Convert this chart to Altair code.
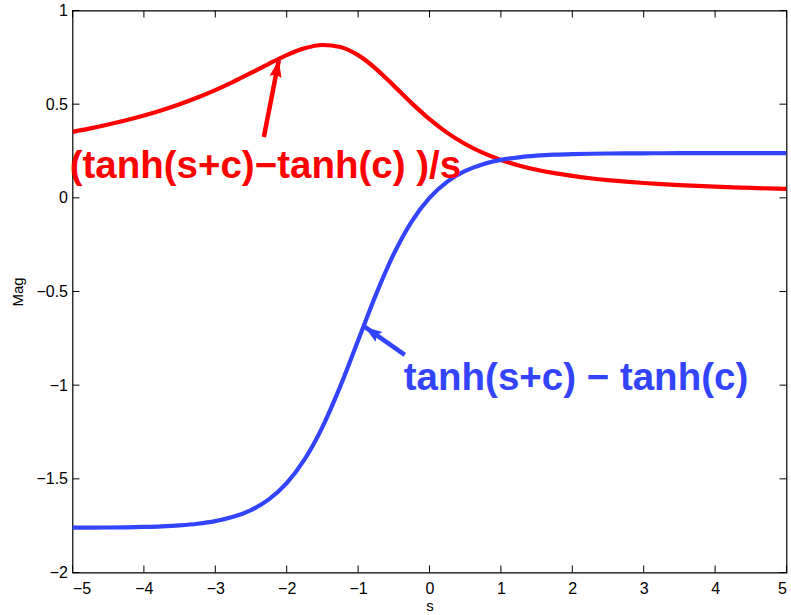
import altair as alt
import pandas as pd

# s values (step 0.25)
s_vals = [-5.0, -4.75, -4.5, -4.25, -4.0, -3.75, -3.5, -3.25, -3.0, -2.75, -2.5, -2.25,
          -2.0, -1.75, -1.5, -1.25, -1.0, -0.75, -0.5, -0.25, 0.0, 0.25, 0.5, 0.75,
          1.0, 1.25, 1.5, 1.75, 2.0, 2.25, 2.5, 2.75, 3.0, 3.25, 3.5, 3.75, 4.0,
          4.25, 4.5, 4.75, 5.0]

# blue series: tanh(s+c) - tanh(c)
blue_vals = [-1.7609, -1.7605, -1.7598, -1.7586, -1.7566, -1.7535, -1.7482, -1.7396,
             -1.7256, -1.7030, -1.6667, -1.6099, -1.5232, -1.3967, -1.2237, -1.0065,
             -0.7616, -0.5167, -0.2995, -0.1264, 0.0000, 0.0867, 0.1436, 0.1798,
             0.2024, 0.2164, 0.2250, 0.2303, 0.2335, 0.2354, 0.2366, 0.2373, 0.2377,
             0.2380, 0.2382, 0.2383, 0.2383, 0.2384, 0.2384, 0.2384, 0.2384]

# red series: (tanh(s+c) - tanh(c)) / s
red_vals = [0.3522, 0.3706, 0.3911, 0.4138, 0.4392, 0.4676, 0.4995, 0.5353, 0.5752,
            0.6193, 0.6667, 0.7155, 0.7616, 0.7981, 0.8158, 0.8052, 0.7616, 0.6889,
            0.5990, 0.5056, 0.4200, 0.3468, 0.2872, 0.2397, 0.2024, 0.1731, 0.1500,
            0.1316, 0.1168, 0.1046, 0.0946, 0.0863, 0.0792, 0.0732, 0.0681, 0.0636,
            0.0596, 0.0561, 0.0530, 0.0502, 0.0477]

x_ticks = [-5, -4, -3, -2, -1, 0, 1, 2, 3, 4, 5]
y_ticks = [-2, -1.5, -1, -0.5, 0, 0.5, 1]

# annotations
ann_series = ["red", "blue"]
ann_text = ["(tanh(s+c)\u2212tanh(c) )/s", "tanh(s+c) \u2212 tanh(c)"]
ann_tx = [-5.04, -0.36]
ann_ty = [0.106, -1.025]
arrow_x1 = [-2.32, -0.346]
arrow_y1 = [0.325, -0.838]
arrow_x2 = [-2.11, -0.906]
arrow_y2 = [0.736, -0.689]
arrow_angle = [11, 305]

RED = "#ff0000"
BLUE = "#3344ff"

W, H = 714, 562
FONT = "Liberation Sans"

curves = pd.DataFrame({
    "s": s_vals * 2,
    "v": red_vals + blue_vals,
    "series": ["red"] * len(s_vals) + ["blue"] * len(s_vals),
})
ann = pd.DataFrame({
    "series": ann_series, "text": ann_text, "tx": ann_tx, "ty": ann_ty,
    "x1": arrow_x1, "y1": arrow_y1, "x2": arrow_x2, "y2": arrow_y2,
    "angle": arrow_angle,
})

xs = alt.Scale(domain=[-5, 5], nice=False, zero=False)
ys = alt.Scale(domain=[-2, 1], nice=False, zero=False)
cs = alt.Scale(domain=["red", "blue"], range=[RED, BLUE])

lines = alt.Chart(curves).mark_line(strokeWidth=4.2, interpolate="monotone", clip=True).encode(
    x=alt.X("s:Q", scale=xs, title="s",
            axis=alt.Axis(values=x_ticks, format="~g", tickSize=0, domain=False, grid=False,
                          labelFontSize=16, labelPadding=8, labelFont=FONT, labelColor="black",
                          titleFont=FONT, titleFontSize=15, titleFontWeight="normal",
                          titlePadding=2, titleColor="black")),
    y=alt.Y("v:Q", scale=ys, title="Mag",
            axis=alt.Axis(values=y_ticks, format="~g", tickSize=0, domain=False, grid=False,
                          labelFontSize=16, labelPadding=5, labelFont=FONT, labelColor="black",
                          titleFont=FONT, titleFontSize=15, titleFontWeight="normal",
                          titlePadding=10, titleColor="black")),
    color=alt.Color("series:N", scale=cs, legend=None),
    detail="series:N",
)

xt = pd.DataFrame({"t": x_ticks})
yt = pd.DataFrame({"t": y_ticks})
tick_style = dict(color="black", strokeWidth=1)
xb = alt.Chart(xt).mark_rule(**tick_style).encode(
    x=alt.X("t:Q", scale=xs), y=alt.value(H), y2=alt.value(H - 7))
xtop = alt.Chart(xt).mark_rule(**tick_style).encode(
    x=alt.X("t:Q", scale=xs), y=alt.value(0), y2=alt.value(7))
yl = alt.Chart(yt).mark_rule(**tick_style).encode(
    y=alt.Y("t:Q", scale=ys), x=alt.value(0), x2=alt.value(7))
yr = alt.Chart(yt).mark_rule(**tick_style).encode(
    y=alt.Y("t:Q", scale=ys), x=alt.value(W), x2=alt.value(W - 7))

arrow_lines = alt.Chart(ann).mark_rule(strokeWidth=4.5).encode(
    x=alt.X("x1:Q", scale=xs), y=alt.Y("y1:Q", scale=ys),
    x2="x2:Q", y2="y2:Q",
    color=alt.Color("series:N", scale=cs, legend=None),
)
arrow_heads = alt.Chart(ann).mark_point(
    shape="M0,0 L0.7,2 L0,1.7 L-0.7,2 Z", filled=True, size=300, opacity=1
).encode(
    x=alt.X("x2:Q", scale=xs), y=alt.Y("y2:Q", scale=ys),
    angle=alt.Angle("angle:Q", scale=None),
    color=alt.Color("series:N", scale=cs, legend=None),
)
labels = alt.Chart(ann).mark_text(
    align="left", baseline="alphabetic", font=FONT, fontSize=38.5, fontWeight="bold"
).encode(
    x=alt.X("tx:Q", scale=xs), y=alt.Y("ty:Q", scale=ys), text="text:N",
    color=alt.Color("series:N", scale=cs, legend=None),
)

chart = alt.layer(lines, xb, xtop, yl, yr, arrow_lines, arrow_heads, labels).properties(
    width=W, height=H,
    padding={"left": 72.5, "top": 10.5, "right": 4.5, "bottom": 42.5},
    autosize=alt.AutoSizeParams(type="none"),
    background="white",
).configure_view(
    stroke="black", strokeWidth=1.2
).configure_axis(
    labelFont=FONT, labelFontSize=16, titleFont=FONT, titleFontSize=15,
    titleFontWeight="normal", labelColor="black", titleColor="black",
)

chart.save("out.html", embed_options={"renderer": "svg", "actions": False})
